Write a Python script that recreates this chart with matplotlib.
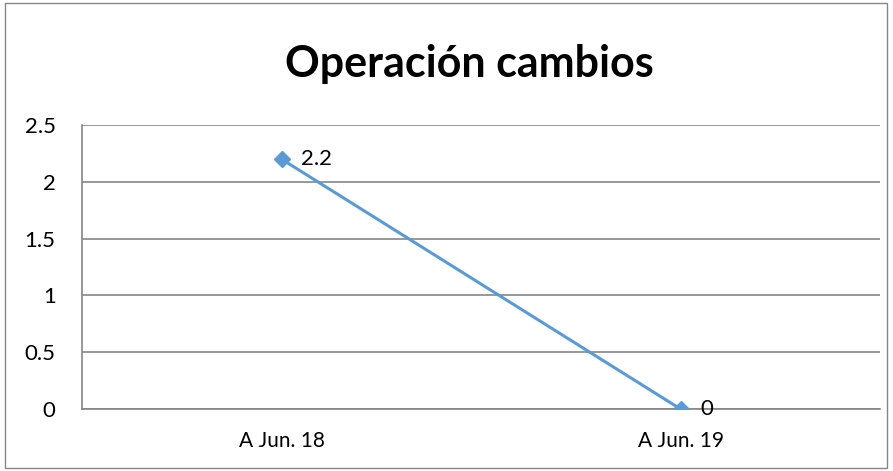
import matplotlib.pyplot as plt
from matplotlib.patches import Rectangle

plt.rcParams['font.family'] = ['Lato', 'DejaVu Sans']

categories = ['A Jun. 18', 'A Jun. 19']
values = [2.2, 0]
labels = ['2.2', '0']

fig = plt.figure(figsize=(8.93, 4.71), dpi=100)
ax = fig.add_axes([82 / 893, 1 - 409 / 471, 798 / 893, 284 / 471])

x = range(len(categories))
ax.plot(x, values, color='#5B9BD5', lw=2.2, marker='D', ms=8, zorder=3)
for xi, v, t in zip(x, values, labels):
    ax.annotate(t, (xi, v), xytext=(14, 0), textcoords='offset points',
                va='center', ha='left', fontsize=16)

ax.set_xlim(-0.5, 1.5)
ax.set_ylim(0, 2.5)
ax.set_yticks([0, 0.5, 1, 1.5, 2, 2.5])
ax.set_yticklabels(['0', '0.5', '1', '1.5', '2', '2.5'])
ax.set_xticks(list(x))
ax.set_xticklabels(categories)
ax.tick_params(axis='y', length=0, pad=19, labelsize=16)
ax.tick_params(axis='x', length=0, pad=16, labelsize=15)
ax.grid(axis='y', color='#868686', lw=1.2)
ax.set_axisbelow(True)
for s in ['top', 'right']:
    ax.spines[s].set_visible(False)
ax.spines['left'].set_color('#868686')
ax.spines['bottom'].set_color('#868686')
ax.spines['left'].set_linewidth(1.2)
ax.spines['bottom'].set_linewidth(1.2)

fig.text(469 / 893, 1 - 77 / 471, 'Operación cambios', ha='center', va='baseline',
         fontsize=31, fontweight='bold')

fig.patches.append(Rectangle((5 / 893, 3 / 471), 882 / 893, 465 / 471,
                             transform=fig.transFigure, fill=False,
                             edgecolor='#868686', lw=1))

fig.savefig('out.png', dpi=100)
